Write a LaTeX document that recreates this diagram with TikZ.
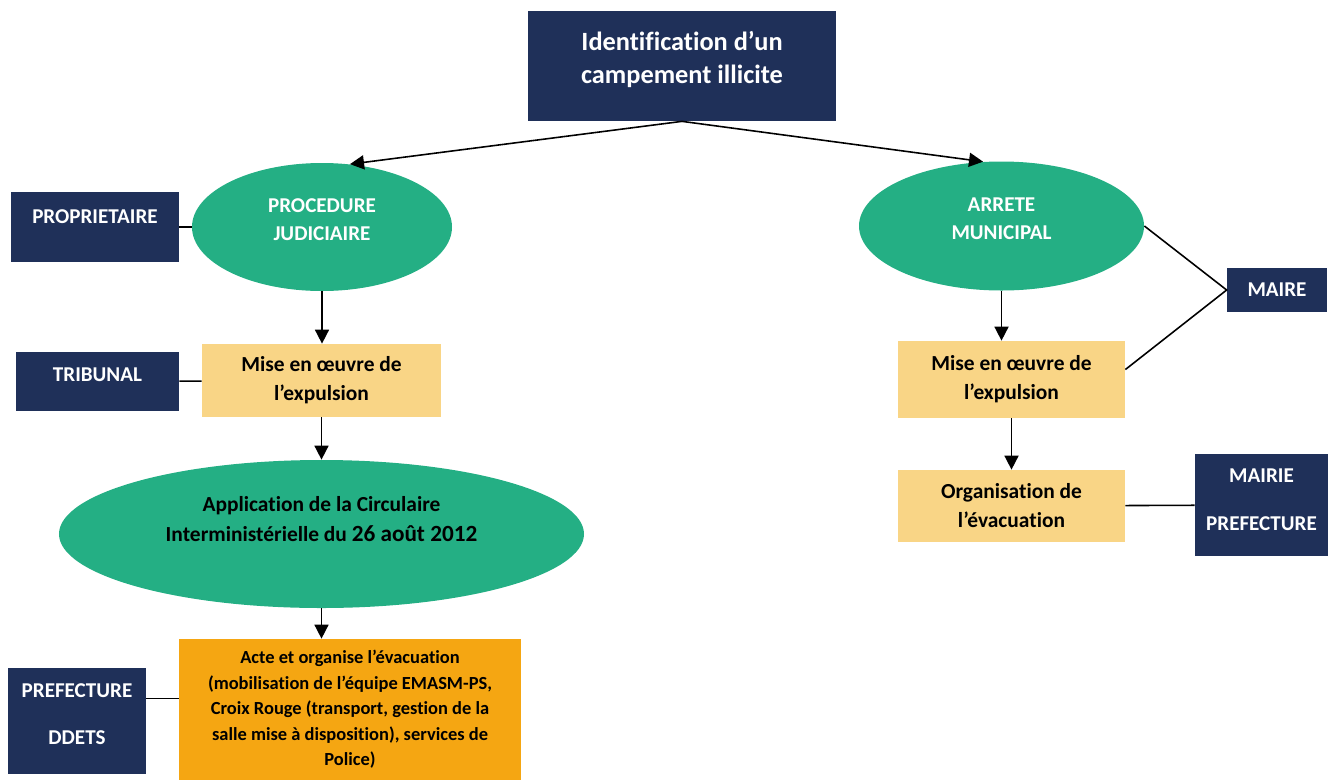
\documentclass[tikz,border=0pt]{standalone}
\usepackage{fontspec}
\setmainfont[Ligatures=NoCommon]{Carlito}
\usetikzlibrary{shapes.geometric,arrows.meta}
\definecolor{navy}{HTML}{1F3059}
\definecolor{vert}{HTML}{24AF84}
\definecolor{sable}{HTML}{F9D586}
\definecolor{ambre}{HTML}{F5A612}
\begin{document}
\begin{tikzpicture}[x=0.2mm,y=-0.2mm,>={Triangle[width=8pt,length=8pt]},
  acteur/.style={rectangle,fill=navy,text=white,align=center,inner sep=0pt,
    font=\bfseries\fontsize{12}{14}\selectfont},
  etape/.style={rectangle,fill=sable,align=center,inner sep=0pt,
    font=\bfseries\fontsize{12.2}{16.5}\selectfont},
  cadre/.style={ellipse,fill=vert,align=center,inner sep=0pt},
  lien/.style={line width=0.9pt}]
\useasboundingbox (0,0) rectangle (1328,780);
\path
(682,66)     node[acteur,minimum width=61.6mm,minimum height=22mm,text depth=10pt,
               font=\bfseries\fontsize{15}{19}\selectfont] (ident) {Identification d’un\\campement illicite}
(322,227)    node[cadre,minimum width=52mm,minimum height=25.6mm,text=white,text depth=8pt,
               font=\bfseries\fontsize{12}{16}\selectfont] (judic) {PROCEDURE\\JUDICIAIRE}
(1001.5,226) node[cadre,minimum width=57mm,minimum height=25.8mm,text=white,text depth=8pt,
               font=\bfseries\fontsize{12}{16}\selectfont] (arrete) {ARRETE\\MUNICIPAL}
(95,227)     node[acteur,minimum width=33.6mm,minimum height=14mm,text depth=12pt] (proprio) {PROPRIETAIRE}
(97.5,381.5) node[acteur,minimum width=32.6mm,minimum height=11.8mm,text depth=8pt] (tribunal) {TRIBUNAL}
(321.5,380.5) node[etape,minimum width=47.8mm,minimum height=14.6mm] (miseG) {Mise en œuvre de\\l’expulsion}
(321.5,534)  node[cadre,minimum width=105mm,minimum height=29.6mm,text depth=17pt,
               font=\bfseries\fontsize{12.2}{16.8}\selectfont] (circul)
               {Application de la Circulaire\\Interministérielle du {\fontsize{13.2}{16.8}\selectfont 26 août 2012}}
(350,709.5)  node[rectangle,fill=ambre,minimum width=68.4mm,minimum height=28.2mm,align=center,
               font=\bfseries\fontsize{10.5}{14.5}\selectfont] (acte)
               {Acte et organise l’évacuation\\(mobilisation de l’équipe EMASM-PS,\\Croix Rouge (transport, gestion de la\\salle mise à disposition), services de\\Police)}
(77,721)     node[acteur,minimum width=27.6mm,minimum height=21.2mm,text depth=8pt] (prefdd) {PREFECTURE\\[13pt]DDETS}
(1011.5,379.5) node[etape,minimum width=45.4mm,minimum height=15.4mm] (miseD) {Mise en œuvre de\\l’expulsion}
(1277,290)   node[acteur,minimum width=20mm,minimum height=8.8mm] (maire) {MAIRE}
(1011.5,506) node[etape,minimum width=45.4mm,minimum height=14.4mm] (orga) {Organisation de\\l’évacuation}
(1261.5,505) node[acteur,minimum width=26.6mm,minimum height=20.4mm,text depth=6pt] (mairpref) {MAIRIE\\[13pt]PREFECTURE};
\draw[->,lien] (ident.south)--(judic.66);
\draw[->,lien] (ident.south)--(arrete.106);
\draw[->,lien] (judic)--(judic |- miseG.north);
\draw[->,lien] (miseG)--(circul);
\draw[->,lien] (circul)--(circul |- acte.north);
\draw[->,lien] (arrete)--(arrete |- miseD.north);
\draw[->,lien] (miseD)--(orga);
\draw[lien] (proprio)--(judic);
\draw[lien] (tribunal)--(miseG);
\draw[lien] (prefdd.18)--(prefdd.18 -| acte.west);
\draw[lien] (arrete.east)--(maire.west)--(miseD.5);
\draw[lien] (orga)--(mairpref);
\end{tikzpicture}
\end{document}
